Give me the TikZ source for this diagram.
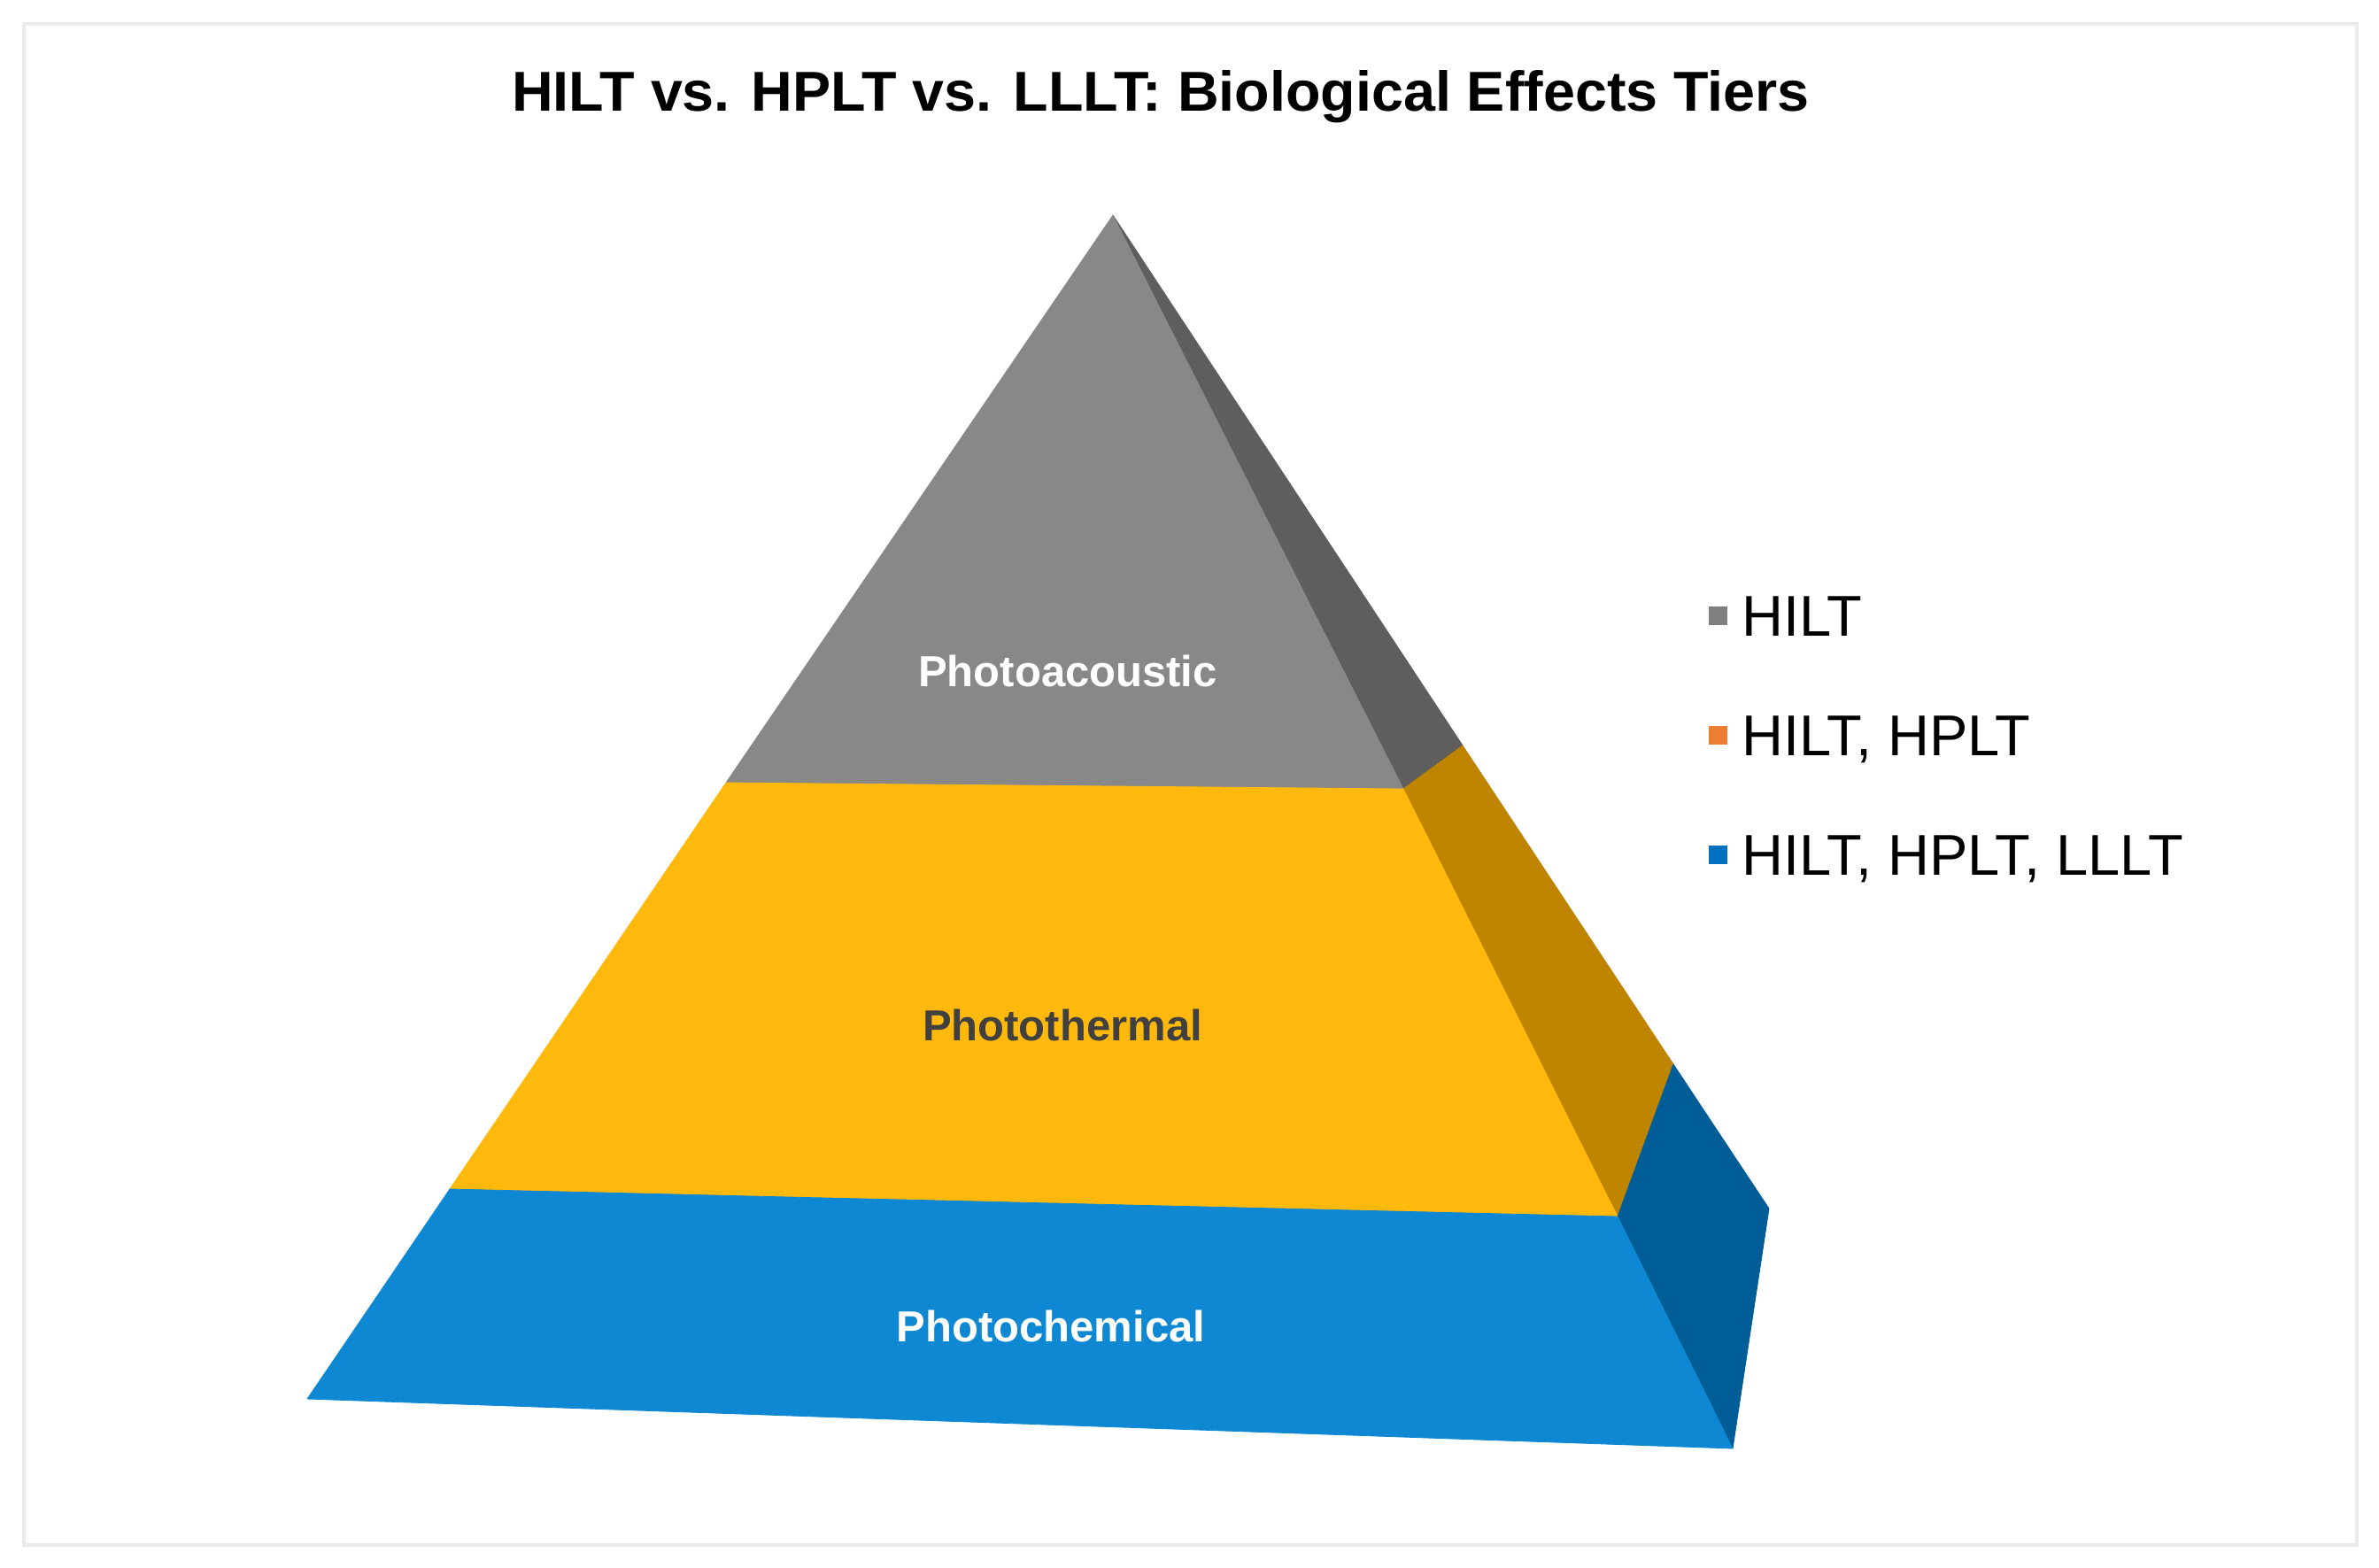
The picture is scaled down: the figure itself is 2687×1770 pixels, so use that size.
\documentclass[tikz,border=0pt]{standalone}
\usepackage{fontspec}
\setmainfont{Liberation Sans}
\definecolor{greyF}{HTML}{888888}
\definecolor{greyS}{HTML}{5E5E5E}
\definecolor{yelF}{HTML}{FFB80C}
\definecolor{yelS}{HTML}{BF8500}
\definecolor{bluF}{HTML}{0E88D3}
\definecolor{bluS}{HTML}{005D97}
\definecolor{legOr}{HTML}{ED7D31}
\definecolor{legBl}{HTML}{0070C0}
\definecolor{legGr}{HTML}{7F7F7F}
\definecolor{frameC}{HTML}{EAEAEA}
\definecolor{darkT}{HTML}{404040}
\tikzset{
  face/.style={fill=#1, draw=#1, line width=0.8pt, line join=round},
  tierlabel/.style={anchor=base, inner sep=0pt, font=\fontsize{49}{59}\selectfont\bfseries},
  legtext/.style={anchor=base west, inner sep=0pt, font=\fontsize{65}{78}\selectfont, text=black},
  legbox/.style={minimum size=21pt, inner sep=0pt, fill=#1, draw=none},
}
\begin{document}
\begin{tikzpicture}[x=1pt,y=-1pt]
\useasboundingbox (0,0) rectangle (2687,1770);
\fill[white] (0,0) rectangle (2687,1770);
\draw[frameC, line width=4pt] (27,27) rectangle (2662,1745);

% pyramid corner points
\coordinate (A)  at (1257,243);
\coordinate (G1) at (820,884);
\coordinate (G2) at (1585,891);
\coordinate (G3) at (1652,842);
\coordinate (Y1) at (508,1343);
\coordinate (Y2) at (1827,1374);
\coordinate (Y3) at (1890,1202);
\coordinate (BL) at (347,1580);
\coordinate (BR) at (1957,1636);
\coordinate (BB) at (1998,1365);

% side faces
\draw[face=greyS] (A) -- (G2) -- (G3) -- cycle;
\draw[face=yelS] (G2) -- (Y2) -- (Y3) -- (G3) -- cycle;
\draw[face=bluS] (Y2) -- (BR) -- (BB) -- (Y3) -- cycle;
% front faces
\draw[face=greyF] (A) -- (G2) -- (G1) -- cycle;
\draw[face=yelF] (G1) -- (G2) -- (Y2) -- (Y1) -- cycle;
\draw[face=bluF] (Y1) -- (Y2) -- (BR) -- (BL) -- cycle;

% title
\node[anchor=base, inner sep=0pt] (title) at (1311,125)
  {\resizebox{1465pt}{46pt}{\bfseries HILT vs. HPLT vs. LLLT: Biological Effects Tiers}};

% tier labels
\node[tierlabel, text=white] (acoustic) at (1206,775) {Photoacoustic};
\node[tierlabel, text=darkT] (thermal) at (1200,1175) {Photothermal};
\node[tierlabel, text=white] (chemical) at (1187,1515) {Photochemical};

% legend
\node[legbox=legGr] (lg1) at (1940,695) {};
\node[legbox=legOr] (lg2) at (1940,830) {};
\node[legbox=legBl] (lg3) at (1940,965) {};
\node[legtext] (lt1) at (1967,718) {HILT};
\node[legtext] (lt2) at (1967,853) {HILT, HPLT};
\node[legtext] (lt3) at (1967,988) {HILT, HPLT, LLLT};
\end{tikzpicture}
\end{document}
